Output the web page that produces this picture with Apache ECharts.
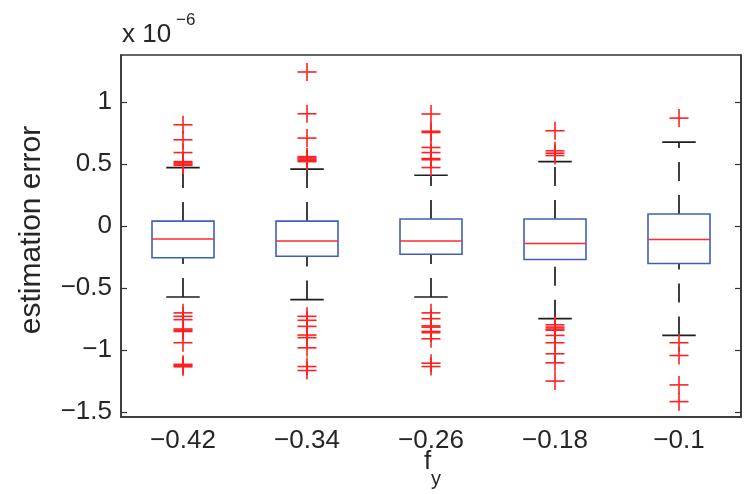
<!DOCTYPE html>
<html><head><meta charset="utf-8">
<script src="https://cdn.jsdelivr.net/npm/echarts@6/dist/echarts.min.js"></script>
<style>html,body{margin:0;padding:0;background:#fff}#c{width:746px;height:494px}</style>
</head><body><div id="c"></div>
<script>
const categories = ['-0.42', '-0.34', '-0.26', '-0.18', '-0.1'];
const whiskerLow  = [-0.572, -0.593, -0.572, -0.747, -0.882];
const q1          = [-0.256, -0.243, -0.227, -0.270, -0.302];
const median      = [-0.105, -0.121, -0.121, -0.140, -0.108];
const q3          = [0.040, 0.040, 0.057, 0.057, 0.097];
const whiskerHigh = [0.472, 0.459, 0.410, 0.520, 0.677];
const outliers1 = [0.817, 0.696, 0.593, 0.52, 0.51, 0.50, 0.49, -0.70, -0.728, -0.755, -0.83, -0.84, -0.85, -0.941, -1.115, -1.125, -1.135];
const outliers2 = [1.243, 0.906, 0.71, 0.56, 0.55, 0.54, 0.53, 0.52, -0.728, -0.76, -0.809, -0.879, -0.90, -0.982, -1.133, -1.165];
const outliers3 = [0.904, 0.765, 0.755, 0.634, 0.593, 0.545, 0.535, 0.472, -0.70, -0.747, -0.805, -0.815, -0.85, -0.86, -0.909, -1.106, -1.133];
const outliers4 = [0.769, 0.607, 0.588, 0.569, -0.796, -0.815, -0.83, -0.84, -0.882, -0.941, -1.03, -1.103, -1.25];
const outliers5 = [0.871, -0.941, -1.044, -1.281, -1.416];
const yTicks = [-1.5, -1, -0.5, 0, 0.5, 1];

const outlierLists = [outliers1, outliers2, outliers3, outliers4, outliers5];
const boxData = categories.map((c, i) => [i, whiskerLow[i], q1[i], median[i], q3[i], whiskerHigh[i]]);
const outlierData = [];
outlierLists.forEach((list, i) => list.forEach(v => outlierData.push([i, v])));

const FONT = '"Liberation Sans", Arial, Helvetica, sans-serif';
const TXT = '#262626';
const minus = s => String(s).replace('-', '\u2212');

function renderBox(params, api) {
  const i = api.value(0);
  const x = api.coord([i, 0])[0];
  const band = api.size([1, 0])[0];
  const hw = band * 0.25, cw = band * 0.135;
  const yLo = api.coord([i, api.value(1)])[1];
  const yQ1 = api.coord([i, api.value(2)])[1];
  const yMed = api.coord([i, api.value(3)])[1];
  const yQ3 = api.coord([i, api.value(4)])[1];
  const yHi = api.coord([i, api.value(5)])[1];
  const dashed = { stroke: '#1e1e1e', lineWidth: 1.7, lineDash: [19, 14] };
  const solid = { stroke: '#1e1e1e', lineWidth: 1.7 };
  return { type: 'group', children: [
    { type: 'line', shape: { x1: x, y1: yLo, x2: x, y2: yQ1 }, style: dashed },
    { type: 'line', shape: { x1: x, y1: yQ3, x2: x, y2: yHi }, style: dashed },
    { type: 'line', shape: { x1: x - cw, y1: yLo, x2: x + cw, y2: yLo }, style: solid },
    { type: 'line', shape: { x1: x - cw, y1: yHi, x2: x + cw, y2: yHi }, style: solid },
    { type: 'rect', shape: { x: x - hw, y: yQ3, width: 2 * hw, height: yQ1 - yQ3 }, style: { fill: 'none', stroke: '#3F5FBF', lineWidth: 1.6 } },
    { type: 'line', shape: { x1: x - hw, y1: yMed, x2: x + hw, y2: yMed }, style: { stroke: '#FF2A2A', lineWidth: 1.5 } }
  ]};
}
function renderPlus(params, api) {
  const p = api.coord([api.value(0), api.value(1)]);
  const s = { stroke: '#FF2020', lineWidth: 1.6 };
  return { type: 'group', children: [
    { type: 'line', shape: { x1: p[0] - 9.5, y1: p[1], x2: p[0] + 9.5, y2: p[1] }, style: s },
    { type: 'line', shape: { x1: p[0], y1: p[1] - 9, x2: p[0], y2: p[1] + 9 }, style: s }
  ]};
}

const chart = echarts.init(document.getElementById('c'), null, { renderer: 'canvas' });
const yBase = {
  type: 'value', min: -1.54, max: 1.38,
  splitLine: { show: false },
  axisLine: { show: true, lineStyle: { color: '#333', width: 1.5 } },
  axisTick: { show: true, inside: true, length: 6, customValues: yTicks, lineStyle: { color: '#333', width: 1.2 } }
};
chart.setOption({
  animation: false,
  backgroundColor: '#fff',
  grid: { left: 121, right: 5, top: 55, bottom: 77, show: true, borderColor: '#333', borderWidth: 1.5, containLabel: false },
  xAxis: {
    type: 'category', data: categories, boundaryGap: true,
    axisLine: { show: true, onZero: false, lineStyle: { color: '#333', width: 1.5 } },
    axisTick: { show: false },
    axisLabel: { formatter: v => minus(v), fontSize: 26, fontFamily: FONT, color: TXT, margin: 11 },
    splitLine: { show: false }
  },
  yAxis: [
    Object.assign({}, yBase, {
      position: 'left',
      name: 'estimation error', nameLocation: 'middle', nameRotate: 90, nameGap: 74,
      nameTextStyle: { fontSize: 30, fontFamily: FONT, color: TXT, padding: [0, 0, 0, 12] },
      axisLabel: { customValues: yTicks, formatter: v => minus(v), fontSize: 26, fontFamily: FONT, color: TXT, margin: 9 }
    }),
    Object.assign({}, yBase, { position: 'right', axisLabel: { show: false } })
  ],
  graphic: [
    { type: 'text', left: 122, top: 22, style: { text: 'x 10', font: '26px ' + FONT, fill: TXT } },
    { type: 'text', left: 176, top: 12, style: { text: '\u22126', font: '17px ' + FONT, fill: TXT } },
    { type: 'text', left: 424, top: 449, style: { text: 'f', font: '26px ' + FONT, fill: TXT } },
    { type: 'text', left: 431, top: 469, style: { text: 'y', font: '20px ' + FONT, fill: TXT } }
  ],
  series: [
    { type: 'custom', name: 'box', renderItem: renderBox, data: boxData, encode: { x: 0, y: [1, 2, 3, 4, 5] }, z: 2 },
    { type: 'custom', name: 'outliers', renderItem: renderPlus, data: outlierData, encode: { x: 0, y: 1 }, z: 3 }
  ]
});
</script>
</body></html>
